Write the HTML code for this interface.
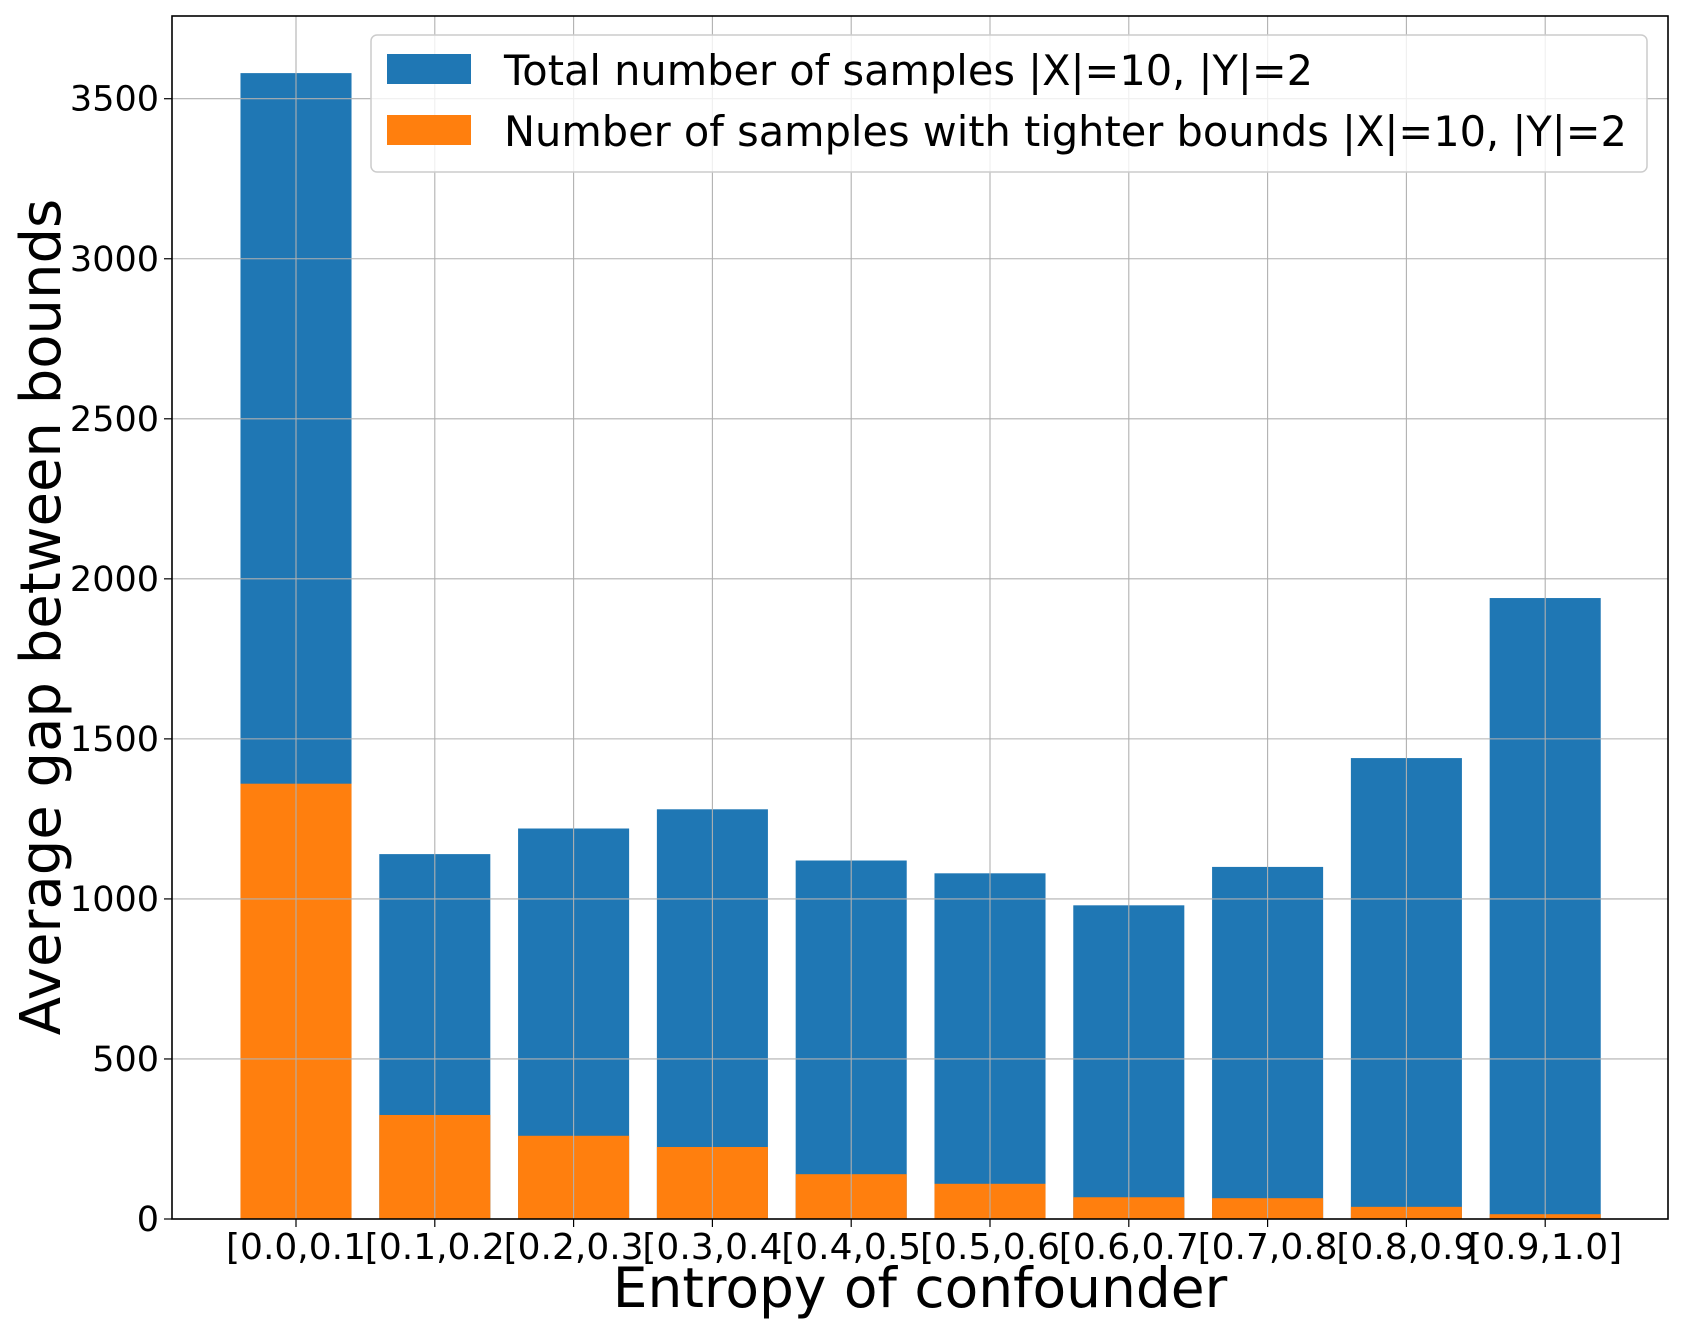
<!DOCTYPE html>
<html><head><meta charset="utf-8"><style>
html,body{margin:0;padding:0;background:#fff}
svg text{font-family:"DejaVu Sans","Liberation Sans",sans-serif;fill:#000}
</style></head><body>
<svg id="chart" width="1682" height="1337" viewBox="0 0 1682 1337" xmlns="http://www.w3.org/2000/svg">
<rect x="0" y="0" width="1682" height="1337" fill="#fff"/>
<g id="bars"></g>
<g id="grid"></g>
<g id="ticks"></g>
<rect x="172" y="16" width="1496" height="1203" fill="none" stroke="#000" stroke-width="1.6"/>
<text x="920" y="1307" font-size="55" text-anchor="middle">Entropy of confounder</text>
<text transform="translate(60,617) rotate(-90)" font-size="56" text-anchor="middle">Average gap between bounds</text>
<g>
<rect x="371" y="35" width="1276" height="137" rx="6" fill="#fff" fill-opacity="0.8" stroke="#ccc" stroke-width="1.5"/>
<rect x="387" y="54" width="84" height="30" fill="#1f77b4"/>
<text x="504" y="85" font-size="41.5">Total number of samples |X|=10, |Y|=2</text>
<rect x="387" y="115" width="84" height="30" fill="#ff7f0e"/>
<text x="504" y="146" font-size="41.5">Number of samples with tighter bounds |X|=10, |Y|=2</text>
</g>
</svg>
<script>
const categories = ["[0.0,0.1","[0.1,0.2","[0.2,0.3","[0.3,0.4","[0.4,0.5","[0.5,0.6","[0.6,0.7","[0.7,0.8","[0.8,0.9","[0.9,1.0]"];
const totalSamples = [3580, 1140, 1220, 1280, 1120, 1080, 980, 1100, 1440, 1940];
const tighterSamples = [1360, 325, 260, 225, 140, 110, 68, 65, 38, 15];
const yTicks = [0, 500, 1000, 1500, 2000, 2500, 3000, 3500];

const NS = "http://www.w3.org/2000/svg";
const plotL = 172, plotR = 1668, plotT = 16, plotB = 1219;
const yMax = (plotB - plotT) / 160.04 * 500;
function yScale(v){ return plotB - v / yMax * (plotB - plotT); }
const step = 138.8, first = 296;
function xScale(i){ return first + i * step; }
const barW = step * 0.8;
function mk(tag, attrs, parent){ const e = document.createElementNS(NS, tag); for (const k in attrs) e.setAttribute(k, attrs[k]); parent.appendChild(e); return e; }

const bars = document.getElementById('bars');
const grid = document.getElementById('grid');
const ticks = document.getElementById('ticks');

categories.forEach((c, i) => {
  const x = xScale(i) - barW / 2;
  const b1 = mk('rect', {x: x, y: yScale(totalSamples[i]), width: barW, height: plotB - yScale(totalSamples[i]), fill: '#1f77b4'}, bars);
  
  
  const b2 = mk('rect', {x: x, y: yScale(tighterSamples[i]), width: barW, height: plotB - yScale(tighterSamples[i]), fill: '#ff7f0e'}, bars);
  
  
  const g = mk('line', {x1: xScale(i), x2: xScale(i), y1: plotT, y2: plotB, stroke: '#b0b0b0', 'stroke-width': 1.1}, grid);
  
  
  const t = mk('line', {x1: xScale(i), x2: xScale(i), y1: plotB, y2: plotB + 8, stroke: '#000', 'stroke-width': 1.2}, ticks);
  
  
  const lbl = mk('text', {x: xScale(i), y: plotB + 40, 'font-size': 36, 'text-anchor': 'middle'}, ticks);
  lbl.textContent = c;
  
  
});
yTicks.forEach(v => {
  const y = yScale(v);
  const g = mk('line', {x1: plotL, x2: plotR, y1: y, y2: y, stroke: '#b0b0b0', 'stroke-width': 1.1}, grid);
  
  
  const t = mk('line', {x1: plotL - 8, x2: plotL, y1: y, y2: y, stroke: '#000', 'stroke-width': 1.2}, ticks);
  
  
  const lbl = mk('text', {x: plotL - 13, y: y + 12, 'font-size': 35, 'text-anchor': 'end'}, ticks);
  lbl.textContent = v;
  
  
});
</script>
</body></html>
